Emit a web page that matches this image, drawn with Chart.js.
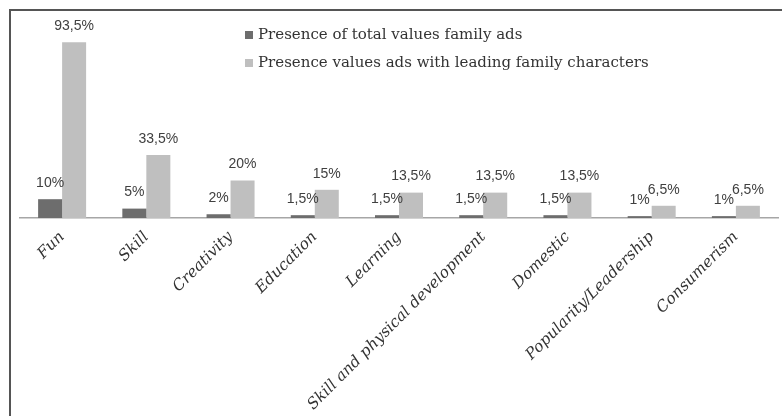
<!DOCTYPE html>
<html lang="en">
<head>
    <meta charset="UTF-8">
    <title>Presence of values in family ads</title>
    <script src="https://cdn.jsdelivr.net/npm/chart.js"></script>
    <style>
        body {
            margin: 0;
            padding: 0;
            background-color: #ffffff;
            overflow: hidden;
        }

        .frame {
            position: absolute;
            left: 9px;
            top: 9px;
            width: 800px;
            height: 500px;
            border-left: 2px solid #555555;
            border-top: 2px solid #555555;
        }

        .chart-box {
            position: absolute;
            left: 0;
            top: 0;
            width: 782px;
            height: 416px;
        }
    </style>
</head>
<body>
    <div class="frame"></div>
    <div class="chart-box">
        <canvas id="valuesChart" width="782" height="416"></canvas>
    </div>

    <script>
        const categories = ['Fun', 'Skill', 'Creativity', 'Education', 'Learning',
            'Skill and physical development', 'Domestic', 'Popularity/Leadership', 'Consumerism'];
        const totalValues = [10, 5, 2, 1.5, 1.5, 1.5, 1.5, 1, 1];
        const leadingValues = [93.5, 33.5, 20, 15, 13.5, 13.5, 13.5, 6.5, 6.5];
        const seriesNames = ['Presence of total values family ads',
            'Presence values ads with leading family characters'];

        // writes the percentage above every bar, with a decimal comma
        const barValues = {
            id: 'barValues',
            afterDatasetsDraw(chart) {
                const ctx = chart.ctx;
                ctx.save();
                ctx.font = '14px "Liberation Sans", Arial, sans-serif';
                ctx.fillStyle = '#404040';
                ctx.textAlign = 'center';
                ctx.textBaseline = 'middle';
                chart.data.datasets.forEach((ds, i) => {
                    chart.getDatasetMeta(i).data.forEach((bar, j) => {
                        const text = String(ds.data[j]).replace('.', ',') + '%';
                        ctx.fillText(text, bar.x, bar.y - 16);
                    });
                });
                ctx.restore();
            }
        };

        // legend sits inside the plot, near the top
        const innerLegend = {
            id: 'innerLegend',
            afterDraw(chart) {
                const ctx = chart.ctx;
                ctx.save();
                ctx.font = '15px "DejaVu Serif", serif';
                ctx.textBaseline = 'middle';
                chart.data.datasets.forEach((ds, i) => {
                    const y = 35 + i * 28;
                    ctx.fillStyle = ds.backgroundColor;
                    ctx.fillRect(245, y - 4, 8, 8);
                    ctx.fillStyle = '#333333';
                    ctx.fillText(ds.label, 258, y);
                });
                ctx.restore();
            }
        };

        new Chart(document.getElementById('valuesChart'), {
            type: 'bar',
            data: {
                labels: categories,
                datasets: [{
                    label: seriesNames[0],
                    data: totalValues,
                    backgroundColor: '#6d6d6d'
                }, {
                    label: seriesNames[1],
                    data: leadingValues,
                    backgroundColor: '#bfbfbf'
                }]
            },
            options: {
                responsive: false,
                animation: false,
                layout: {
                    padding: { left: 20, right: 4, top: 30, bottom: 0 }
                },
                datasets: {
                    bar: {
                        barPercentage: 1,
                        categoryPercentage: 0.57
                    }
                },
                plugins: {
                    legend: { display: false },
                    tooltip: { enabled: false }
                },
                scales: {
                    y: {
                        display: false,
                        min: 0,
                        max: 100
                    },
                    x: {
                        grid: { display: false },
                        border: { color: '#a6a6a6', width: 1.5 },
                        ticks: {
                            minRotation: 45,
                            maxRotation: 45,
                            padding: 2,
                            color: '#333333',
                            font: { family: '"DejaVu Serif", serif', style: 'italic', size: 15.5 }
                        },
                        afterFit(scale) {
                            scale.height = 198;
                        }
                    }
                }
            },
            plugins: [barValues, innerLegend]
        });
    </script>
</body>
</html>
